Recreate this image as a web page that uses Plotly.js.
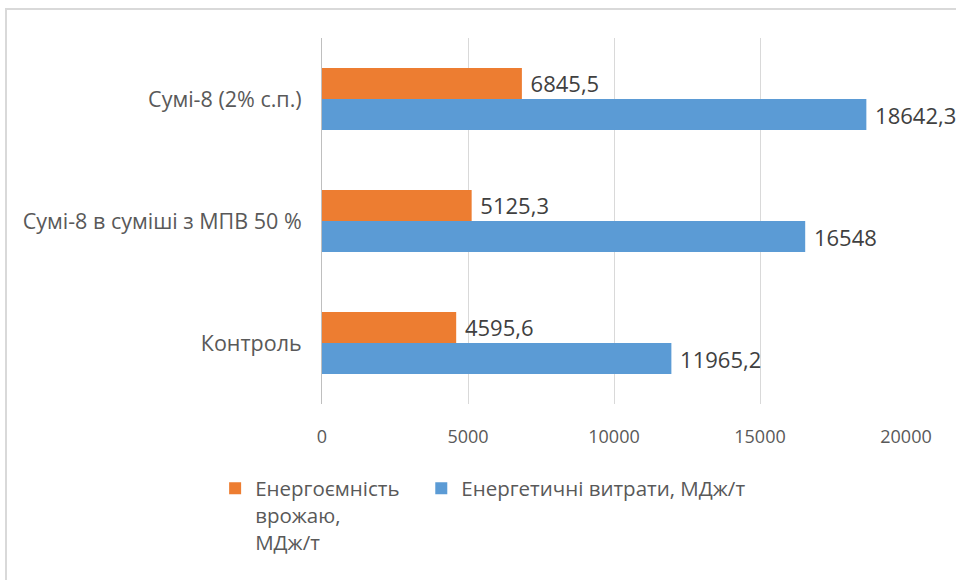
<!DOCTYPE html>
<html>
<head>
<meta charset="utf-8">
<script src="https://cdn.plot.ly/plotly-3.0.1.min.js"></script>
<style>
  html, body { margin: 0; padding: 0; background: #ffffff; }
  #frame {
    position: absolute; left: 5px; top: 8px; width: 1000px; height: 600px;
    border-left: 2px solid #d9d9d9; border-top: 2px solid #d9d9d9;
    box-sizing: border-box;
  }
  #chart { position: absolute; left: 0; top: 0; width: 956px; height: 580px; }
</style>
</head>
<body>
<div id="frame"></div>
<div id="chart"></div>
<script>
// Treatments, bottom to top
const categories = ['Контроль', 'Сумі-8 в суміші з МПВ 50 %', 'Сумі-8 (2% с.п.)'];
// Energy capacity of the yield, MJ/t
const energyCapacity = [4595.6, 5125.3, 6845.5];
// Energy costs, MJ/t
const energyCosts = [11965.2, 16548, 18642.3];
const seriesNames = ['Енергоємність<br>врожаю,<br>МДж/т', 'Енергетичні витрати, МДж/т'];
const tickValues = [0, 5000, 10000, 15000, 20000];
const tickLabels = ['0', '5000', '10000', '15000', '20000'];

// decimal comma, small gap before the value
const fmt = v => '\u00a0' + String(v).replace('.', ',');
const FONT = '"Open Sans", Lato, sans-serif';
const labelFont = { family: FONT, size: 22, color: '#404040' };

const traces = [
  {
    type: 'bar', orientation: 'h', name: seriesNames[1],
    y: categories, x: energyCosts,
    text: energyCosts.map(fmt), textposition: 'outside', cliponaxis: false,
    textfont: labelFont,
    marker: { color: '#5B9BD5' }, legend: 'legend2', hoverinfo: 'x'
  },
  {
    type: 'bar', orientation: 'h', name: seriesNames[0],
    y: categories, x: energyCapacity,
    text: energyCapacity.map(fmt), textposition: 'outside', cliponaxis: false,
    textfont: labelFont,
    marker: { color: '#ED7D31' }, legend: 'legend', hoverinfo: 'x'
  }
];

const legendBase = {
  orientation: 'h', xref: 'paper', yref: 'paper',
  xanchor: 'left', y: -0.176, yanchor: 'top', valign: 'top',
  font: { family: FONT, size: 20.5, color: '#595959' },
  bgcolor: 'rgba(0,0,0,0)'
};

const layout = {
  width: 956, height: 580,
  paper_bgcolor: 'rgba(0,0,0,0)', plot_bgcolor: 'rgba(0,0,0,0)',
  margin: { l: 322, r: 50, t: 38, b: 176 },
  barmode: 'group', bargap: 0.49, bargroupgap: 0,
  font: { family: FONT, size: 18, color: '#595959' },
  xaxis: {
    range: [0, 20000], tickvals: tickValues, ticktext: tickLabels,
    showgrid: true, gridcolor: '#d9d9d9', gridwidth: 1,
    zeroline: false, showline: false, ticks: '',
    ticklabelstandoff: 20,
    tickfont: { family: FONT, size: 18, color: '#595959' }
  },
  yaxis: {
    type: 'category', categoryorder: 'array', categoryarray: categories,
    range: [-0.5, 2.5],
    showgrid: false, zeroline: false,
    showline: true, linecolor: '#bfbfbf', linewidth: 1,
    ticks: '', ticklabelstandoff: 15,
    tickfont: { family: FONT, size: 21.5, color: '#595959' }
  },
  showlegend: true,
  legend: Object.assign({}, legendBase, { x: -0.183 }),
  legend2: Object.assign({}, legendBase, { x: 0.17 })
};

Plotly.newPlot('chart', traces, layout, { displayModeBar: false, staticPlot: true });
</script>
</body>
</html>
